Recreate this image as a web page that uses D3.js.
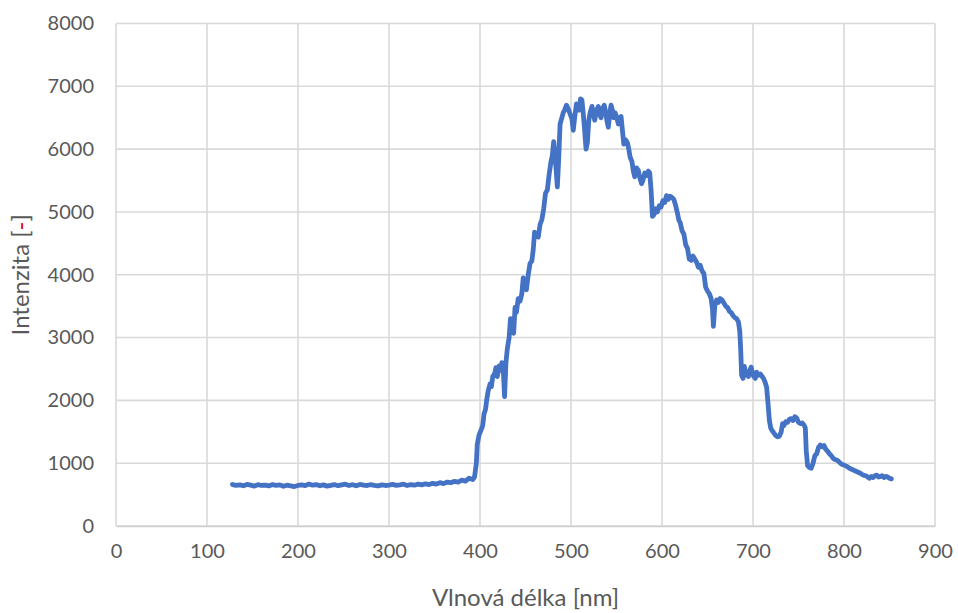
<!DOCTYPE html>
<html>
<head>
<meta charset="utf-8">
<script src="https://cdn.jsdelivr.net/npm/d3@7"></script>
<style>
  html, body { margin: 0; padding: 0; background: #fff; }
  svg { display: block; }
</style>
</head>
<body>
<svg id="chart" width="958" height="613"></svg>
<script>
// Spectrum: wavelength [nm] and measured intensity [-]
const wavelength = [
  128,132,136,140,144,148,152,156,160,164,168,172,176,180,184,188,192,196,200,204,
  208,212,216,220,224,228,232,236,240,244,248,252,256,260,264,268,272,276,280,284,
  288,292,296,300,304,308,312,316,320,324,328,332,336,340,344,348,352,356,360,364,
  368,372,376,380,384,388,392,394,396,397,399,401,403,404.5,406,407.5,409,411,412.5,414,
  416,417.5,419,421,423,424,425.5,427,428.5,430,432,433.5,435,437,438.5,440,442,444,446,447.5,
  449,451,453,455,457,458.5,460,462,464,466,468,470,472,474,476,478,479.5,481,482.5,483.5,
  485,486.5,488,490,491.5,493,495,497,499,501,502.5,504,506,507.5,509,510.5,512,513.5,515,516.5,
  518,519.5,521,523,524.5,526,528,530,531.5,533,535,536.5,538,539.5,541,542.5,544,545.5,547,548.5,
  550,552,553.5,555,556.5,558,560,562,563.5,565,567,568.5,570,572,574,575.5,577.5,579,581,583,
  585,586.5,588,589.5,591,593,595,597,599,601,603,605,607,609,611,613,615,617,618.5,620,
  622,624,626,628,630,632,634,636,638,640,642,644,646,648,650,652,654,655.5,656.5,658,
  660,662,664,666,668,670,672,674,676,678,680,682,684,685.5,686.5,687.5,689,690.5,692,693.5,
  695,696.5,698,699.5,701,702.5,704,706,708,710,711.5,713,715,716.5,718,719.5,721,723,725,727,
  729,731,732.5,734,736,738,740,742,744,746,748,750,752,754,756,757.5,758.5,760,762,764,
  766,768,770,772,774,776,778,780,782,784,786,788,790,792,794,796,798,800,803,806,
  809,812,815,818,821,824,826,828,830,832,834,836,838,840,842,844,846,848,850,852
];
const intensity = [
  660,648,655,640,662,650,635,658,645,652,638,660,648,655,632,650,640,628,645,655,
  642,668,650,660,640,655,635,648,660,642,655,665,645,658,640,662,650,645,660,648,
  638,655,645,650,662,648,655,665,645,660,650,668,655,672,660,680,668,690,675,700,
  690,712,700,730,715,760,740,780,1000,1300,1450,1520,1600,1790,1850,2020,2150,2260,2220,2380,
  2420,2520,2380,2550,2480,2600,2520,2060,2600,2820,3000,3300,3150,3070,3480,3400,3620,3580,3700,3950,
  3850,3760,4000,4180,4220,4400,4680,4620,4600,4800,4880,5050,5300,5350,5600,5800,5900,6120,5880,5700,
  5400,5850,6400,6500,6580,6620,6700,6640,6560,6480,6300,6500,6720,6700,6620,6800,6780,6560,6300,6000,
  6100,6450,6580,6680,6600,6460,6600,6680,6560,6500,6650,6700,6600,6450,6350,6550,6700,6620,6500,6580,
  6520,6400,6500,6520,6300,6080,6150,6100,6000,5870,5800,5650,5560,5700,5660,5550,5450,5500,5620,5580,
  5650,5620,5350,4930,4950,5050,5000,5100,5080,5180,5150,5260,5200,5250,5230,5200,5100,4980,4870,4830,
  4700,4650,4480,4420,4250,4230,4300,4250,4200,4120,4150,4060,4020,3800,3740,3700,3620,3450,3180,3500,
  3600,3560,3620,3600,3550,3500,3480,3420,3400,3350,3320,3300,3250,3100,2800,2400,2350,2540,2400,2450,
  2380,2480,2530,2420,2380,2350,2450,2400,2420,2380,2350,2300,2210,1950,1680,1560,1520,1480,1440,1420,
  1430,1500,1630,1600,1660,1650,1700,1710,1680,1740,1720,1650,1630,1640,1610,1560,1200,960,930,920,
  1000,1120,1150,1250,1290,1260,1280,1220,1190,1150,1120,1080,1060,1050,1030,1000,980,970,950,920,
  900,880,860,840,810,800,780,760,790,770,800,810,780,790,800,770,790,780,760,750
];
const xTicks = [0, 100, 200, 300, 400, 500, 600, 700, 800, 900];
const yTicks = [0, 1000, 2000, 3000, 4000, 5000, 6000, 7000, 8000];

const points = wavelength.map((w, i) => ({ w, v: intensity[i] }));

const svg = d3.select("#chart");
const margin = { left: 116, right: 23, top: 23.5, bottom: 87 };
const W = 958, H = 613;
const plotW = W - margin.left - margin.right;
const plotH = H - margin.top - margin.bottom;

const x = d3.scaleLinear().domain([0, 900]).range([margin.left, margin.left + plotW]);
const y = d3.scaleLinear().domain([0, 8000]).range([margin.top + plotH, margin.top]);

const textColor = "#595959";
const gridColor = "#d9d9d9";
const font = "Lato, 'Open Sans', sans-serif";

// Gridlines
const grid = svg.append("g");
grid.selectAll("line.v").data(xTicks).join("line")
  .attr("x1", d => x(d)).attr("x2", d => x(d))
  .attr("y1", y(0)).attr("y2", y(8000))
  .attr("stroke", gridColor).attr("stroke-width", 1.6);
grid.selectAll("line.h").data(yTicks).join("line")
  .attr("x1", x(0)).attr("x2", x(900))
  .attr("y1", d => y(d)).attr("y2", d => y(d))
  .attr("stroke", gridColor).attr("stroke-width", 1.6);

// Axes (labels only, gridlines carry the structure)
const xAxis = svg.append("g")
  .attr("transform", `translate(0,${y(0)})`)
  .call(d3.axisBottom(x).tickValues(xTicks).tickSize(0).tickPadding(18).tickFormat(d3.format("d")));
xAxis.select(".domain").attr("stroke", "#d0d0d0").attr("stroke-width", 1.6);
xAxis.selectAll("text").attr("fill", textColor).attr("font-family", font).attr("font-size", 20);

const yAxis = svg.append("g")
  .attr("transform", `translate(${x(0)},0)`)
  .call(d3.axisLeft(y).tickValues(yTicks).tickSize(0).tickPadding(22).tickFormat(d3.format("d")));
yAxis.select(".domain").remove();
yAxis.selectAll("text").attr("fill", textColor).attr("font-family", font).attr("font-size", 20);

// Spectrum line
const line = d3.line().x(d => x(d.w)).y(d => y(d.v));
svg.append("path")
  .datum(points)
  .attr("d", line)
  .attr("fill", "none")
  .attr("stroke", "#4472c4")
  .attr("stroke-width", 4.8)
  .attr("stroke-linejoin", "round")
  .attr("stroke-linecap", "round");

// Axis titles
svg.append("text")
  .attr("x", margin.left + plotW / 2).attr("y", 606)
  .attr("text-anchor", "middle")
  .attr("fill", textColor).attr("font-family", font).attr("font-size", 24)
  .text("Vlnová délka [nm]");

const yTitle = svg.append("text")
  .attr("transform", `translate(29,${margin.top + plotH / 2}) rotate(-90)`)
  .attr("text-anchor", "middle")
  .attr("fill", textColor).attr("font-family", font).attr("font-size", 24);
yTitle.append("tspan").text("Intenzita [");
yTitle.append("tspan").attr("fill", "#e00000").text("-");
yTitle.append("tspan").text("]");
</script>
</body>
</html>
